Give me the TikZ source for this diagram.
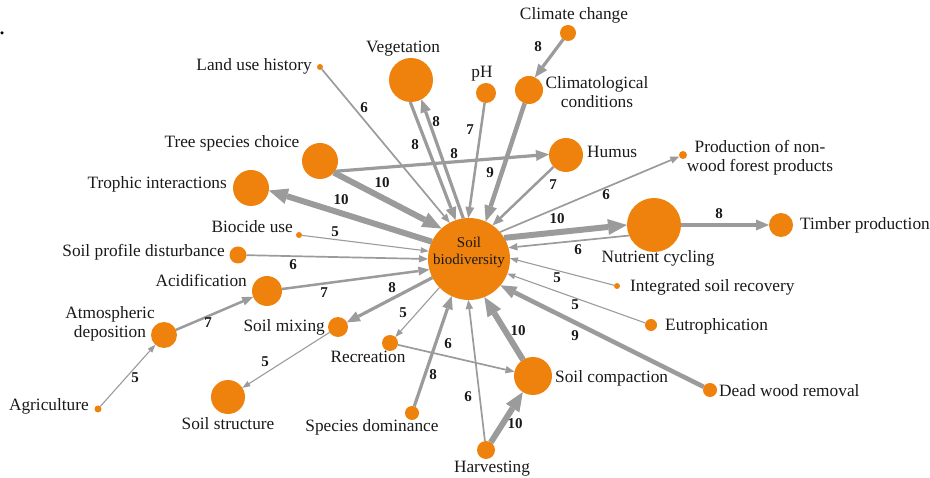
\documentclass[tikz,border=0pt]{standalone}
\usepackage{fontspec}
\setmainfont{Liberation Serif}
\usetikzlibrary{arrows.meta}
\definecolor{nodeorange}{RGB}{238,130,12}
\definecolor{linkgray}{RGB}{155,155,155}
\definecolor{inktext}{RGB}{25,25,25}

\begin{document}
\begin{tikzpicture}[x=1pt,y=-1pt,
  ball/.style={circle, fill=nodeorange, inner sep=0pt, outer sep=0pt, minimum size=#1},
  fname/.style={font=\fontsize{17.3}{19.5}\selectfont, text=inktext, inner sep=0pt},
  wlabel/.style={font=\fontsize{15}{17}\selectfont\bfseries, text=inktext, inner sep=0pt},
  w5/.style={draw=linkgray, line width=1.1pt, -{Triangle[length=8pt,width=6pt,line width=0pt]}},
  w6/.style={draw=linkgray, line width=1.7pt, -{Triangle[length=9pt,width=7.5pt,line width=0pt]}},
  w7/.style={draw=linkgray, line width=2.5pt, -{Triangle[length=11pt,width=9pt,line width=0pt]}},
  w8/.style={draw=linkgray, line width=3.2pt, -{Triangle[length=13pt,width=11pt,line width=0pt]}},
  w9/.style={draw=linkgray, line width=4.5pt, -{Triangle[length=16pt,width=13pt,line width=0pt]}},
  w10/.style={draw=linkgray, line width=6pt, -{Triangle[length=19pt,width=16pt,line width=0pt]}},
]
\useasboundingbox (0,0) rectangle (930,478);

% small mark at the left edge
\node[circle, fill=black, inner sep=0pt, minimum size=3.5pt] (mark) at (2,33) {};

% factor nodes
\node[ball=82pt] (sb) at (469,259) {};
\node[ball=44pt] (veg) at (411,80) {};
\node[ball=20pt] (ph) at (486,93) {};
\node[ball=16pt] (cc) at (568,33) {};
\node[ball=28pt] (clim) at (529,90) {};
\node[ball=34pt] (humus) at (566,155) {};
\node[ball=6pt] (land) at (320,67) {};
\node[ball=36pt] (tree) at (320,161) {};
\node[ball=36pt] (troph) at (251,188) {};
\node[ball=6pt] (bio) at (299,235) {};
\node[ball=17pt] (prof) at (238,255) {};
\node[ball=30pt] (acid) at (267,291) {};
\node[ball=26pt] (atmos) at (164,335) {};
\node[ball=7pt] (agri) at (98,409) {};
\node[ball=34pt] (struct) at (228,397) {};
\node[ball=20pt] (mix) at (338,327) {};
\node[ball=16pt] (recr) at (390,343) {};
\node[ball=14pt] (spec) at (412,413) {};
\node[ball=18pt] (harv) at (486,450) {};
\node[ball=38pt] (comp) at (533,376) {};
\node[ball=14pt] (dead) at (710,390) {};
\node[ball=12pt] (eutro) at (651,325) {};
\node[ball=6pt] (integ) at (617,286) {};
\node[ball=54pt] (nutr) at (654,225) {};
\node[ball=24pt] (timber) at (781,225) {};
\node[ball=8pt] (prod) at (683,155) {};

% node names
\node[font=\fontsize{15}{17}\selectfont, text=inktext, align=center, inner sep=0pt] (sbtext) at (469,252) {Soil\\biodiversity};
\node[fname, anchor=base] (tcc) at (574,20) {Climate change};
\node[fname, anchor=base] (tveg) at (403,53) {Vegetation};
\node[fname, anchor=base] (tph) at (482,78) {pH};
\node[fname, align=center] (tclim) at (597,92) {Climatological\\conditions};
\node[fname, anchor=base west] (thumus) at (587,158) {Humus};
\node[fname, anchor=base east] (tland) at (312,71) {Land use history};
\node[fname, anchor=base] (ttree) at (232,148) {Tree species choice};
\node[fname, anchor=base east] (ttroph) at (227,189) {Trophic interactions};
\node[fname, anchor=base east] (tbio) at (293,233) {Biocide use};
\node[fname, anchor=base east] (tprof) at (225,257) {Soil profile disturbance};
\node[fname, anchor=base east] (tacid) at (247,287) {Acidification};
\node[fname, align=center] (tatmos) at (110,324) {Atmospheric\\deposition};
\node[fname, anchor=base east] (tagri) at (89,411) {Agriculture};
\node[fname, anchor=base] (tstruct) at (228,430) {Soil structure};
\node[fname, anchor=base east] (tmix) at (325,332) {Soil mixing};
\node[fname, anchor=base] (trecr) at (368,363) {Recreation};
\node[fname, anchor=base] (tspec) at (372,432) {Species dominance};
\node[fname, anchor=base] (tharv) at (492,472) {Harvesting};
\node[fname, anchor=base west] (tcomp) at (555,383) {Soil compaction};
\node[fname, anchor=base west] (tdead) at (719,397) {Dead wood removal};
\node[fname, anchor=base west] (teutro) at (665,331) {Eutrophication};
\node[fname, anchor=base west] (tinteg) at (630,292) {Integrated soil recovery};
\node[fname, anchor=base] (tnutr) at (658,263) {Nutrient cycling};
\node[fname, anchor=base west] (ttimber) at (800,230) {Timber production};
\node[fname, align=center] (tprod) at (760,158) {Production of non-\\wood forest products};

% links, weighted
\draw[w8] (cc) -- (clim.65);
\draw[w9] (clim) -- (sb.66);
\draw[w7] (ph) -- (sb.91);
\draw[w8] (veg.-92) -- (sb.109);
\draw[w8] (sb.98) -- (veg.-62);
\draw[w6] (land) -- (sb.118);
\draw[w8] (tree.-35) -- (humus.178);
\draw[w10] (tree.-40) -- (sb.132);
\draw[w10] (sb.155) -- (troph.-8);
\draw[w7] (humus) -- (sb.55);
\draw[w6] (sb.41) -- (prod);
\draw[w10] (sb.31) -- (nutr.180);
\draw[w6] (nutr.203) -- (sb.16);
\draw[w8] (nutr) -- (timber);
\draw[w5] (integ) -- (sb.1);
\draw[w5] (eutro) -- (sb.-21);
\draw[w9] (dead) -- (sb.-40);
\draw[w10] (comp) -- (sb.-68);
\draw[w10] (harv) -- (comp);
\draw[w6] (harv) -- (sb.-91);
\draw[w8] (spec) -- (sb.-115);
\draw[w6] (recr) -- (comp);
\draw[w5] (sb.-136) -- (recr);
\draw[w8] (sb.-153) -- (mix);
\draw[w5] (mix) -- (struct);
\draw[w7] (acid) -- (sb.195);
\draw[w7] (atmos) -- (acid);
\draw[w5] (agri) -- (atmos);
\draw[w6] (prof) -- (sb.180);
\draw[w5] (bio) -- (sb.169);

% link weights
\node[wlabel] (l1) at (538,47) {8};
\node[wlabel] (l2) at (490,173) {9};
\node[wlabel] (l3) at (470,130) {7};
\node[wlabel] (l4) at (415,145) {8};
\node[wlabel] (l5) at (436,122) {8};
\node[wlabel] (l6) at (364,108) {6};
\node[wlabel] (l7) at (454,154) {8};
\node[wlabel] (l8) at (382,183) {10};
\node[wlabel] (l9) at (341,200) {10};
\node[wlabel] (l10) at (553,185) {7};
\node[wlabel] (l11) at (606,195) {6};
\node[wlabel] (l12) at (557,219) {10};
\node[wlabel] (l13) at (578,250) {6};
\node[wlabel] (l14) at (719,214) {8};
\node[wlabel] (l15) at (557,278) {5};
\node[wlabel] (l16) at (575,305) {5};
\node[wlabel] (l17) at (575,336) {9};
\node[wlabel] (l18) at (518,331) {10};
\node[wlabel] (l19) at (515,424) {10};
\node[wlabel] (l20) at (468,397) {6};
\node[wlabel] (l21) at (433,375) {8};
\node[wlabel] (l22) at (448,344) {6};
\node[wlabel] (l23) at (403,313) {5};
\node[wlabel] (l24) at (392,288) {8};
\node[wlabel] (l25) at (265,362) {5};
\node[wlabel] (l26) at (324,293) {7};
\node[wlabel] (l27) at (208,323) {7};
\node[wlabel] (l28) at (135,378) {5};
\node[wlabel] (l29) at (293,265) {6};
\node[wlabel] (l30) at (335,232) {5};
\end{tikzpicture}
\end{document}
